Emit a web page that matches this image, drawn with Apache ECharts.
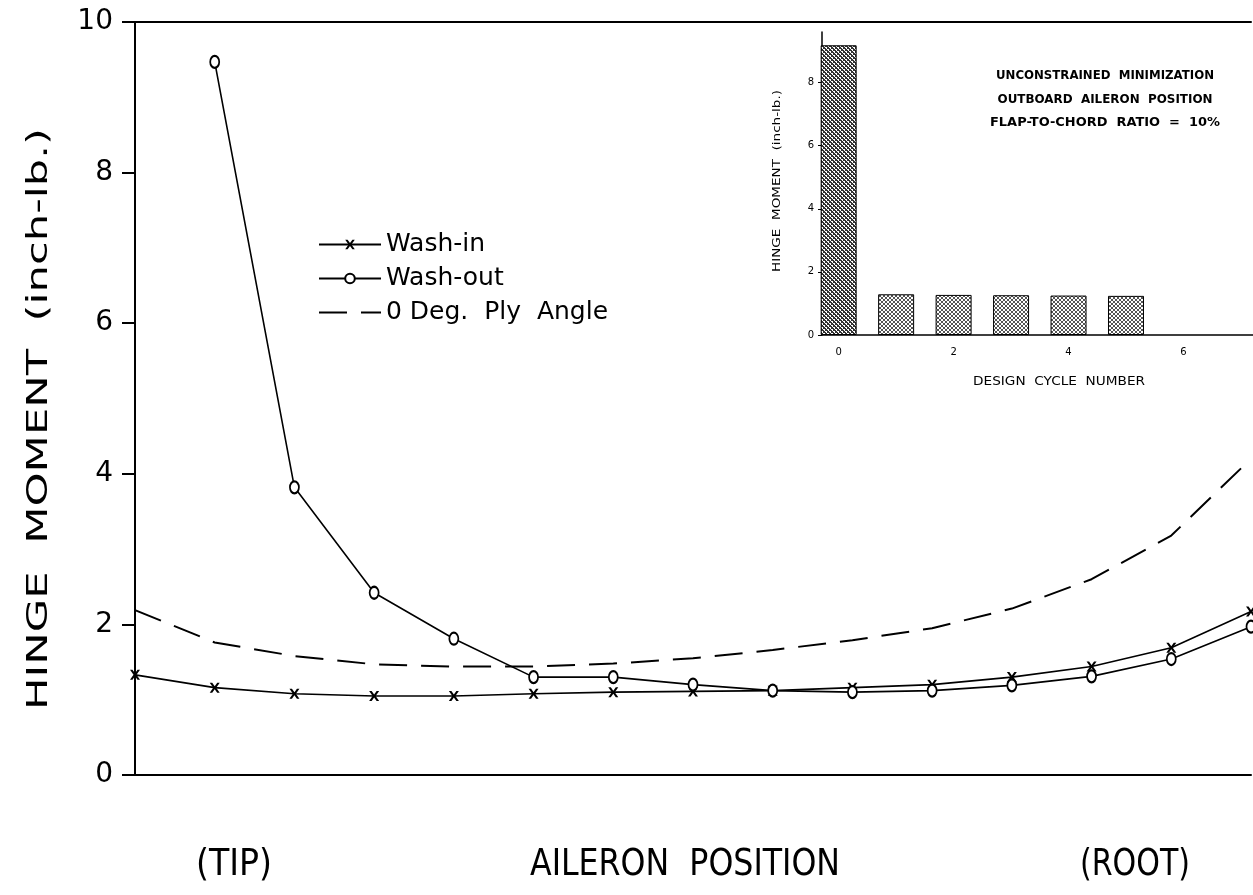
<!DOCTYPE html>
<html>
<head>
<meta charset="UTF-8">
<title>Hinge moment vs aileron position</title>
<script src="https://cdn.jsdelivr.net/npm/echarts@6/dist/echarts.min.js"></script>
<style>
html, body { margin: 0; padding: 0; background: #fff; }
#main { width: 1253px; height: 895px; }
</style>
</head>
<body>
<div id="main"></div>
<script>
// main plot: stations along the aileron, tip (0) to root (14)
var positions = ['0','1','2','3','4','5','6','7','8','9','10','11','12','13','14'];
var washIn  = [1.33, 1.16, 1.08, 1.05, 1.05, 1.08, 1.10, 1.11, 1.12, 1.16, 1.20, 1.30, 1.44, 1.69, 2.17];
var washOut = [null, 9.47, 3.82, 2.42, 1.81, 1.30, 1.30, 1.20, 1.12, 1.10, 1.12, 1.19, 1.31, 1.54, 1.97];
var plyZero = [2.19, 1.76, 1.58, 1.47, 1.44, 1.44, 1.48, 1.55, 1.66, 1.79, 1.95, 2.21, 2.60, 3.18, 4.20];
var yTicks  = [0, 2, 4, 6, 8, 10];

// inset: hinge moment per design cycle
var cycles       = [0, 1, 2, 3, 4, 5];
var cycleMoment  = [9.18, 1.29, 1.27, 1.26, 1.25, 1.24];
var insetXTicks  = [0, 2, 4, 6];
var insetYTicks  = [0, 2, 4, 6, 8];

var FONT = '"DejaVu Sans", sans-serif';

// stretch text so it spans the same length as in the scan
var mctx = document.createElement('canvas').getContext('2d');
function fitScale(txt, font, width) {
	mctx.font = font;
	return width / mctx.measureText(txt).width;
}
function label(txt, x, y, size, width, opts) {
	opts = opts || {};
	var weight = opts.bold ? 'bold ' : '';
	var font = weight + size + 'px ' + FONT;
	return {
		type: 'text',
		x: x, y: y,
		rotation: opts.rot || 0,
		scaleX: fitScale(txt, font, width),
		silent: true,
		style: {
			text: txt, font: font, fill: '#000',
			align: 'center', verticalAlign: 'middle',
			textAlign: 'center', textVerticalAlign: 'middle'
		}
	};
}

// stippled cross-hatch fill for the inset bars
function hatch(ink, dense) {
	var c = document.createElement('canvas');
	c.width = 4; c.height = 4;
	var g = c.getContext('2d');
	g.fillStyle = '#fff'; g.fillRect(0, 0, 4, 4);
	g.fillStyle = ink;
	for (var i = 0; i < 4; i++) {
		g.fillRect(i, i, 1, 1);
		g.fillRect(3 - i, i, 1, 1);
	}
	if (dense) {
		g.fillRect(1, 0, 1, 1); g.fillRect(3, 2, 1, 1);
	}
	return c;
}
var lightFill = { image: hatch('#555', false), repeat: 'repeat' };
var darkFill  = { image: hatch('#333', true), repeat: 'repeat' };

var barData = cycles.map(function (c, i) {
	return { value: [c, cycleMoment[i]], itemStyle: { color: i === 0 ? darkFill : lightFill } };
});

var crossSymbol = 'path://M0,0 L2.5,0 L5,3.5 L7.5,0 L10,0 L6.5,5 L10,10 L7.5,10 L5,6.5 L2.5,10 L0,10 L3.5,5 Z';

var chart = echarts.init(document.getElementById('main'));
var option = {
	animation: false,
	backgroundColor: '#fff',
	textStyle: { fontFamily: FONT, color: '#000' },
	legend: {
		orient: 'vertical',
		left: 313,
		top: 227,
		itemWidth: 62,
		itemHeight: 12,
		itemGap: 9,
		selectedMode: false,
		textStyle: { fontSize: 25, color: '#000', fontFamily: FONT },
		data: [
			'Wash-in',
			'Wash-out',
			{ name: '0 Deg.  Ply  Angle', itemStyle: { color: 'rgba(0,0,0,0)', borderColor: 'rgba(0,0,0,0)' } }
		]
	},
	grid: [
		{ left: 135, right: 2, top: 22, bottom: 120 },
		{ left: 822, right: 0, top: 32, bottom: 560 }
	],
	xAxis: [
		{
			gridIndex: 0, type: 'category', boundaryGap: false, data: positions,
			axisLine: { lineStyle: { color: '#000', width: 2 } },
			axisTick: { show: false }, axisLabel: { show: false }, splitLine: { show: false }
		},
		{
			gridIndex: 0, type: 'category', position: 'top', boundaryGap: false, data: positions,
			axisLine: { lineStyle: { color: '#000', width: 2 } },
			axisTick: { show: false }, axisLabel: { show: false }, splitLine: { show: false }
		},
		{
			gridIndex: 1, type: 'value', min: -0.29, max: 7.21,
			axisLine: { onZero: false, lineStyle: { color: '#000', width: 1.5 } },
			axisTick: { show: false },
			axisLabel: { customValues: insetXTicks, fontSize: 10, color: '#000', margin: 12 },
			splitLine: { show: false }
		}
	],
	yAxis: [
		{
			gridIndex: 0, type: 'value', min: 0, max: 10, interval: 2,
			axisLine: { show: true, lineStyle: { color: '#000', width: 2 } },
			axisTick: { show: true, length: 13, lineStyle: { color: '#000', width: 2 } },
			axisLabel: { fontSize: 28, color: '#000', margin: 22, customValues: yTicks },
			splitLine: { show: false }
		},
		{
			gridIndex: 1, type: 'value', min: 0, max: 9.6,
			axisLine: { show: true, onZero: false, lineStyle: { color: '#000', width: 1.5 } },
			axisTick: { show: true, length: 4, customValues: insetYTicks, lineStyle: { color: '#000', width: 1 } },
			axisLabel: { fontSize: 10, color: '#000', margin: 8, customValues: insetYTicks },
			splitLine: { show: false }
		}
	],
	series: [
		{
			name: 'Wash-in', type: 'line', xAxisIndex: 0, yAxisIndex: 0,
			data: washIn,
			symbol: crossSymbol, symbolSize: [10, 10],
			itemStyle: { color: '#000' },
			lineStyle: { color: '#000', width: 1.6 }
		},
		{
			name: 'Wash-out', type: 'line', xAxisIndex: 0, yAxisIndex: 0,
			data: washOut,
			symbol: 'emptyCircle', symbolSize: [9, 12],
			itemStyle: { color: '#000', borderWidth: 1.6 },
			lineStyle: { color: '#000', width: 1.6 }
		},
		{
			name: '0 Deg.  Ply  Angle', type: 'line', xAxisIndex: 0, yAxisIndex: 0,
			data: plyZero,
			symbol: 'none',
			itemStyle: { color: '#000' },
			lineStyle: { color: '#000', width: 2, type: [28, 14] }
		},
		{
			name: 'Hinge moment', type: 'bar', xAxisIndex: 2, yAxisIndex: 1,
			data: barData,
			barWidth: 36,
			itemStyle: { borderColor: '#000', borderWidth: 1 }
		}
	],
	graphic: [
		label('HINGE  MOMENT  (inch-lb.)', 40, 419, 28, 582, { rot: Math.PI / 2 }),
		label('(TIP)', 234, 865, 38, 76),
		label('AILERON  POSITION', 685, 865, 38, 310),
		label('(ROOT)', 1135, 865, 38, 110),
		label('HINGE  MOMENT  (inch-lb.)', 777, 181, 11, 182, { rot: Math.PI / 2 }),
		label('UNCONSTRAINED  MINIMIZATION', 1105, 76, 12, 218, { bold: true }),
		label('OUTBOARD  AILERON  POSITION', 1105, 100, 12, 215, { bold: true }),
		label('FLAP-TO-CHORD  RATIO  =  10%', 1105, 123, 12, 230, { bold: true }),
		label('DESIGN  CYCLE  NUMBER', 1059, 382, 12, 172)
	]
};
chart.setOption(option);
</script>
</body>
</html>
